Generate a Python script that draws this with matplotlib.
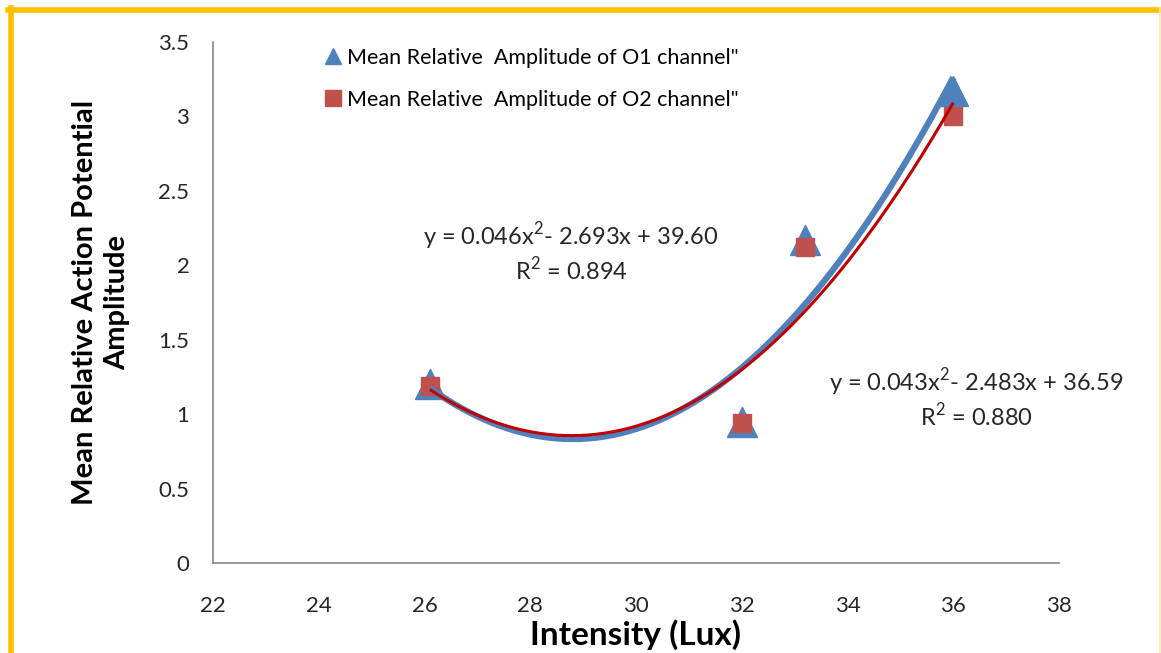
import numpy as np
import matplotlib
matplotlib.use("Agg")
import matplotlib.pyplot as plt
from matplotlib.lines import Line2D

# Data
intensity = [26.1, 32.0, 33.2, 36.0]
o1_amp = [1.20, 0.95, 2.17, 3.17]
o2_amp = [1.19, 0.94, 2.12, 3.00]
o1_label = 'Mean Relative  Amplitude of O1 channel"'
o2_label = 'Mean Relative  Amplitude of O2 channel"'
eq1 = "y = 0.046x$^2$- 2.693x + 39.60\nR$^2$ = 0.894"
eq2 = "y = 0.043x$^2$- 2.483x + 36.59\nR$^2$ = 0.880"
xticks = [22, 24, 26, 28, 30, 32, 34, 36, 38]
yticks = [0, 0.5, 1, 1.5, 2, 2.5, 3, 3.5]
ytick_labels = ["0", "0.5", "1", "1.5", "2", "2.5", "3", "3.5"]

plt.rcParams['font.family'] = ['Lato', 'DejaVu Sans']
plt.rcParams['mathtext.fontset'] = 'custom'
plt.rcParams['mathtext.rm'] = 'Lato'

W, H = 1161, 653
fig = plt.figure(figsize=(W / 100, H / 100), dpi=100)
ax = fig.add_axes([213 / W, 1 - 563 / H, (1059 - 213) / W, (563 - 42) / H])

blue_m = '#4F81BD'
red_m = '#C0504D'

ax.plot(intensity, o1_amp, linestyle='none', marker='^', ms=21, color=blue_m,
        label=o1_label, zorder=3)
ax.plot(intensity, o2_amp, linestyle='none', marker='s', ms=13.5, color=red_m,
        label=o2_label, zorder=4)

xs = np.linspace(min(intensity), max(intensity), 200)
c1 = np.polyfit(intensity, o1_amp, 2)
c2 = np.polyfit(intensity, o2_amp, 2)
ax.plot(xs, np.polyval(c1, xs), color='#4F81BD', lw=4.5, zorder=5,
        solid_capstyle='butt')
ax.plot(xs, np.polyval(c2, xs), color='#C00000', lw=2.2, zorder=6,
        solid_capstyle='butt')

ax.set_xlim(22, 38)
ax.set_ylim(0, 3.5)
ax.set_xticks(xticks)
ax.set_yticks(yticks)
ax.set_yticklabels(ytick_labels)
ax.tick_params(length=0, labelsize=16, colors='#262626')
ax.tick_params(axis='x', pad=24)
ax.tick_params(axis='y', pad=17)
for s in ['top', 'right']:
    ax.spines[s].set_visible(False)
for s in ['left', 'bottom']:
    ax.spines[s].set_color('#868686')
    ax.spines[s].set_linewidth(1.2)

ax.set_xlabel("Intensity (Lux)", fontsize=24, fontweight='bold')
ax.xaxis.set_label_coords((636 - 213) / 846, (563 - 635) / 521)
ax.xaxis.label.set_va('center')
ax.set_ylabel("Mean Relative Action Potential\nAmplitude", fontsize=21,
              fontweight='bold', linespacing=1.3)
ax.yaxis.set_label_coords((101 - 213) / 846, (563 - 302) / 521)
ax.yaxis.label.set_va('center')

ax.text((571 - 213) / 846, (563 - 252) / 521, eq1, transform=ax.transAxes,
        ha='center', va='center', fontsize=17, color='#262626', linespacing=1.15)
ax.text((976 - 213) / 846, (563 - 398) / 521, eq2, transform=ax.transAxes,
        ha='center', va='center', fontsize=17, color='#262626', linespacing=1.15)

leg = ax.legend(loc='upper left', bbox_to_anchor=((323 - 213) / 846, (563 - 48) / 521),
                frameon=False, fontsize=15.5, handletextpad=0.2, labelspacing=1.0,
                handlelength=0.9, borderaxespad=0, borderpad=0)
for h in leg.legend_handles:
    h.set_markersize(11)

# gold frame
gold = '#FFC000'
fig.add_artist(Line2D([8 / W, 1160 / W], [1 - 9.5 / H, 1 - 9.5 / H], color=gold, lw=4))
fig.add_artist(Line2D([10.5 / W, 10.5 / W], [0, 1 - 8 / H], color=gold, lw=4))
fig.add_artist(Line2D([1159.5 / W, 1159.5 / W], [0, 1 - 8 / H], color='#FFE9A8', lw=1.2))

fig.savefig("out.png", dpi=100)
